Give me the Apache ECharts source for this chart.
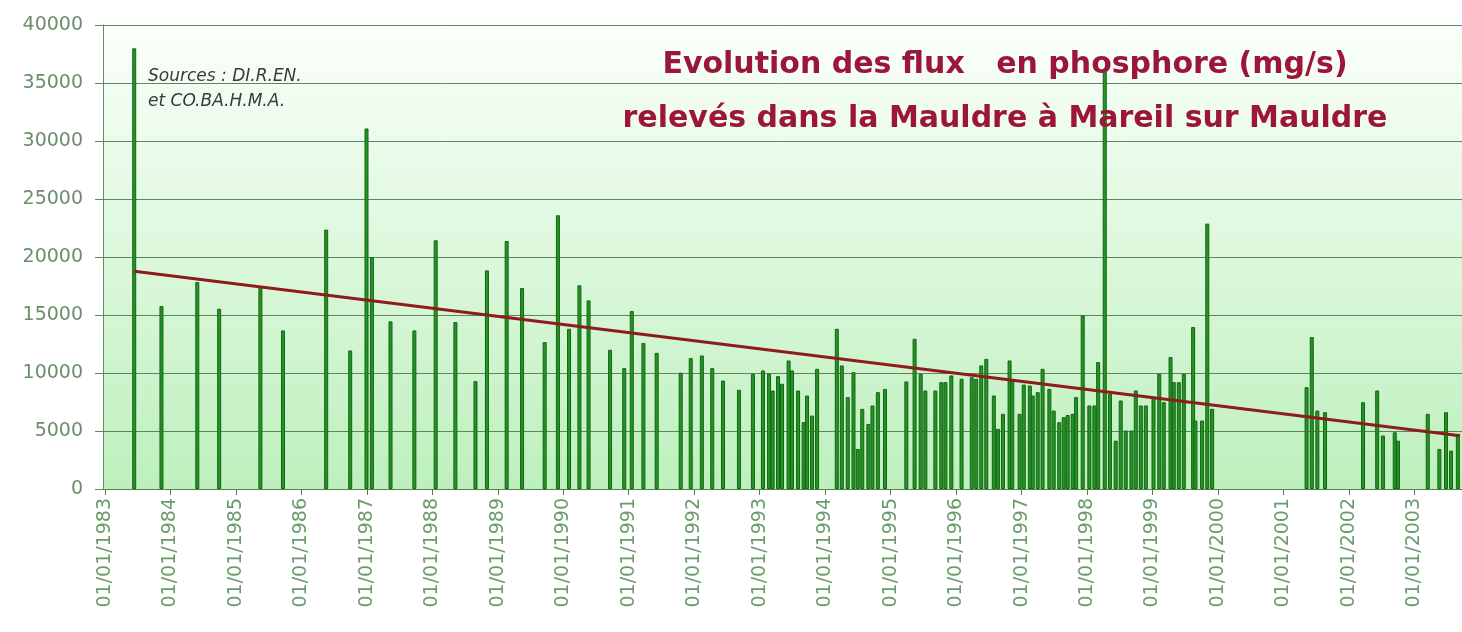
<!DOCTYPE html>
<html>
<head>
<meta charset="utf-8">
<script src="https://cdn.jsdelivr.net/npm/echarts@6/dist/echarts.min.js"></script>
<style>
html,body{margin:0;padding:0;background:#ffffff;}
#chart{width:1462px;height:632px;}
</style>
</head>
<body>
<div id="chart"></div>
<script>
// Sampling dates of the measurements
const dates = [
'1983-06-13','1983-11-12','1984-05-30','1984-09-29','1985-05-17','1985-09-20','1986-05-19','1986-09-30','1986-12-30','1987-01-29',
'1987-05-13','1987-09-23','1988-01-20','1988-05-09','1988-08-29','1988-11-01','1989-02-19','1989-05-16','1989-09-19','1989-12-02',
'1990-02-02','1990-04-01','1990-05-22','1990-09-19','1990-12-07','1991-01-18','1991-03-24','1991-06-06','1991-10-18','1991-12-13',
'1992-02-13','1992-04-11','1992-06-10','1992-09-07','1992-11-24','1993-01-19','1993-02-22','1993-03-14','1993-04-13','1993-05-05',
'1993-06-11','1993-06-30','1993-08-03','1993-09-03','1993-09-22','1993-10-20','1993-11-17','1994-03-07','1994-04-04','1994-05-07',
'1994-06-08','1994-07-02','1994-07-27','1994-08-30','1994-09-22','1994-10-22','1994-12-01','1995-03-30','1995-05-15','1995-06-18',
'1995-07-14','1995-09-08','1995-10-11','1995-11-03','1995-12-06','1996-02-01','1996-03-29','1996-04-23','1996-05-21','1996-06-18',
'1996-07-30','1996-08-22','1996-09-19','1996-10-26','1996-11-10','1996-12-21','1997-01-13','1997-02-16','1997-03-04','1997-04-01',
'1997-04-28','1997-06-05','1997-06-29','1997-07-30','1997-08-24','1997-09-15','1997-10-13','1997-11-01','1997-12-08','1998-01-14',
'1998-02-11','1998-03-04','1998-04-10','1998-05-09','1998-06-10','1998-07-08','1998-08-05','1998-09-06','1998-09-30','1998-10-28',
'1998-11-25','1999-01-07','1999-02-08','1999-03-05','1999-04-12','1999-04-30','1999-05-28','1999-06-25','1999-08-16','1999-08-29',
'1999-10-05','1999-11-03','1999-11-30','2001-05-10','2001-06-08','2001-07-09','2001-08-21','2002-03-21','2002-06-08','2002-07-10',
'2002-09-14','2002-10-02','2003-03-17','2003-05-21','2003-06-27','2003-07-25','2003-09-01'
];
// Phosphorus flux (mg/s)
const flux = [
37990,15770,17840,15540,17410,13670,22360,11940,31080,20000,
14450,13670,21440,14390,9300,18850,21380,17330,12660,23600,
13810,17560,16260,12000,10420,15340,12580,11740,10020,11280,
11510,10420,9350,8550,9930,10220,9930,8490,9730,9070,
11080,10220,8490,5760,8060,6330,10360,13810,10650,7920,
10070,3450,6910,5610,7200,8350,8630,9270,12950,9930,
8490,8490,9210,9210,9790,9500,9640,9500,10650,11220,
8060,5180,6480,11080,9400,6480,9000,8920,8060,8350,
10360,8630,6760,5760,6190,6380,6480,7920,14970,7200,
7200,10940,35980,8200,4170,7630,5040,5040,8490,7200,
7200,7920,9930,7480,11370,9210,9210,9930,13960,5900,
5900,22880,6910,8780,13100,6760,6620,7480,8490,4610,
4890,4170,6480,3450,6620,3310,4750
];
// Linear trend line end points
const trendDates = ['1983-06-13', '2003-09-13'];
const trendValues = [18770, 4600];
// Axis settings
const xMin = '1983-01-01';
const xMax = '2003-09-13';
const yMax = 40000;
const yStep = 5000;
const titleLines = ['Evolution des flux   en phosphore (mg/s)', 'relevés dans la Mauldre à Mareil sur Mauldre'];
const sourceLines = ['Sources : DI.R.EN.', 'et CO.BA.H.M.A.'];

const chart = echarts.init(document.getElementById('chart'), null, {renderer: 'canvas'});
const DAY = 24 * 3600 * 1000;
chart.setOption({
  animation: false,
  backgroundColor: '#ffffff',
  title: [
    {
      text: titleLines.join('\n'),
      left: 1000, top: 33, textAlign: 'center',
      textStyle: {fontFamily: 'DejaVu Sans', fontWeight: 'bold', fontSize: 30, color: '#9b1638', lineHeight: 54}
    },
    {
      text: sourceLines.join('\n'),
      left: 143, top: 59,
      textStyle: {fontFamily: 'DejaVu Sans', fontStyle: 'italic', fontWeight: 'normal', fontSize: 17, color: '#3a3a3a', lineHeight: 25}
    }
  ],
  grid: {
    left: 103, right: 0, top: 25, bottom: 143,
    show: true, borderWidth: 0,
    backgroundColor: new echarts.graphic.LinearGradient(0, 0, 0, 1, [
      {offset: 0, color: '#fbfffb'},
      {offset: 1, color: '#bdf0bd'}
    ])
  },
  xAxis: {
    type: 'time', min: xMin, max: xMax,
    minInterval: 365 * DAY, maxInterval: 366 * DAY,
    axisLine: {lineStyle: {color: '#4f7f4f', width: 1}},
    axisTick: {show: true, length: 6, lineStyle: {color: '#4f7f4f'}},
    splitLine: {show: false},
    axisLabel: {
      rotate: 90, margin: 9, color: '#6a9c6a',
      fontFamily: 'DejaVu Sans', fontSize: 19,
      hideOverlap: false,
      formatter: function (v) {
        const d = new Date(v);
        if (d.getMonth() === 0 && d.getDate() === 1) return '01/01/' + d.getFullYear();
        return '';
      }
    }
  },
  yAxis: {
    type: 'value', min: 0, max: yMax, interval: yStep,
    axisLine: {show: true, lineStyle: {color: '#5e8e5e', width: 1}},
    axisTick: {show: true, length: 8, lineStyle: {color: '#5e8e5e'}},
    splitLine: {show: true, lineStyle: {color: '#5c865c', width: 1}},
    axisLabel: {
      margin: 20, color: '#6b8f6b', fontFamily: 'DejaVu Sans', fontSize: 19,
      formatter: function (v) { return String(v); }
    }
  },
  series: [
    {
      type: 'bar', barWidth: 4,
      data: dates.map((d, i) => [d, flux[i]]),
      itemStyle: {color: '#279227', borderColor: '#116611', borderWidth: 1},
      z: 2
    },
    {
      type: 'line', symbol: 'none',
      data: trendDates.map((d, i) => [d, trendValues[i]]),
      lineStyle: {color: '#8e1c1c', width: 3},
      z: 3
    }
  ]
});
</script>
</body>
</html>
